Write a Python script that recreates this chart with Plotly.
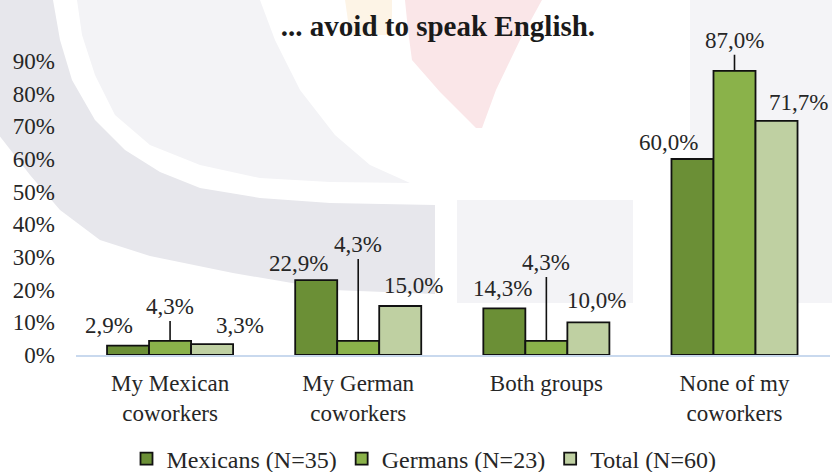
import plotly.graph_objects as go

categories = ["My Mexican<br>coworkers", "My German<br>coworkers", "Both groups", "None of my<br>coworkers"]
series_names = ["Mexicans (N=35)", "Germans (N=23)", "Total (N=60)"]
mexicans = [0.029, 0.229, 0.143, 0.600]
germans = [0.043, 0.043, 0.043, 0.870]
total = [0.033, 0.150, 0.100, 0.717]
y_ticks = [0, 0.1, 0.2, 0.3, 0.4, 0.5, 0.6, 0.7, 0.8, 0.9]
title_text = "... avoid to speak English."

colors = ["#6b8f36", "#8ab24a", "#bfd0a2"]
FONT = "Liberation Serif"
TXT = "#262626"

# plot area geometry (pixels) for background watermark placement
L, T, W, H = 76, 61, 754, 294


def P(px, py):
    return (px - L) / W, (T + H - py) / H


def path(pts):
    s = ""
    for i, (px, py) in enumerate(pts):
        x, y = P(px, py)
        s += ("M" if i == 0 else "L") + f"{x:.4f},{y:.4f} "
    return s + "Z"


band = [(-5, 0), (53, 0), (60, 40), (72, 80), (95, 120), (125, 150), (160, 172), (200, 188),
        (260, 198), (330, 203), (435, 205), (435, 294), (333, 290), (233, 273), (150, 256),
        (100, 240), (60, 210), (30, 175), (-5, 130)]
light = [(77, 0), (260, 0), (275, 40), (300, 90), (335, 135), (370, 165), (410, 183),
         (330, 182), (260, 178), (200, 165), (150, 145), (115, 115), (95, 75), (82, 35)]
pink = [(405, 0), (542, 0), (520, 40), (496, 90), (482, 128), (476, 128), (440, 92),
        (412, 60), (408, 30)]
orange = [(345, 0), (392, 0), (392, 35), (350, 35)]

shapes = [
    dict(type="path", path=path(band), xref="paper", yref="paper", layer="below",
         fillcolor="#e7e7ec", line=dict(width=0)),
    dict(type="path", path=path(light), xref="paper", yref="paper", layer="below",
         fillcolor="#f3f3f6", line=dict(width=0)),
    dict(type="path", path=path(pink), xref="paper", yref="paper", layer="below",
         fillcolor="#fae6e8", line=dict(width=0)),
    dict(type="path", path=path(orange), xref="paper", yref="paper", layer="below",
         fillcolor="#fdf4e6", line=dict(width=0)),
    dict(type="path", path=path([(457, 200), (633, 200), (633, 303), (457, 303)]), xref="paper",
         yref="paper", layer="below", fillcolor="#f3f3f6", line=dict(width=0)),
    dict(type="path", path=path([(690, -5), (840, -5), (840, 303), (690, 303)]), xref="paper",
         yref="paper", layer="below", fillcolor="#f4f4f7", line=dict(width=0)),
]

fig = go.Figure()
for name, vals, col in zip(series_names, [mexicans, germans, total], colors):
    fig.add_trace(go.Bar(
        x=categories, y=vals, name=name,
        marker=dict(color=col, line=dict(color="#111111", width=1.8)),
    ))


def fmt(v):
    return f"{v*100:.1f}%".replace(".", ",")


# label offsets (pixels) relative to category center / bar top
mex_dx = [-61, -60, -44, -66]
mex_dy = [20, 17, 20, 17]
tot_dx = [70, 55, 50, 64]
tot_dy = [19, 21, 22, 18]
ger_ay = [-34, -96, -78, -30]

ann = []
for i, c in enumerate(categories):
    ann.append(dict(x=c, y=mexicans[i], text=fmt(mexicans[i]), showarrow=False,
                    xshift=mex_dx[i], yshift=mex_dy[i], font=dict(family=FONT, size=23, color=TXT)))
    ann.append(dict(x=c, y=total[i], text=fmt(total[i]), showarrow=False,
                    xshift=tot_dx[i], yshift=tot_dy[i], font=dict(family=FONT, size=23, color=TXT)))
    ann.append(dict(x=c, y=germans[i], text=fmt(germans[i]), showarrow=True,
                    arrowhead=0, arrowwidth=1.6, arrowcolor="#111111", ax=0, ay=ger_ay[i],
                    font=dict(family=FONT, size=23, color=TXT)))

fig.update_layout(
    width=832, height=472,
    margin=dict(l=L, r=832 - L - W, t=T, b=472 - T - H),
    paper_bgcolor="white", plot_bgcolor="rgba(0,0,0,0)",
    barmode="group", bargap=0.33, bargroupgap=0,
    font=dict(family=FONT, size=23, color=TXT),
    title=dict(text="<b>" + title_text + "</b>", x=438/832, xref="container", xanchor="center",
               y=1-26/472, yref="container", yanchor="middle",
               font=dict(family=FONT, size=29, color="#1a1a1a")),
    showlegend=True,
    legend=dict(orientation="h", x=424/832, xanchor="center", xref="container",
                y=13/472, yanchor="middle", yref="container", bgcolor="rgba(0,0,0,0)",
                font=dict(family=FONT, size=24, color=TXT), itemwidth=30),
    annotations=ann,
    shapes=shapes,
    xaxis=dict(showline=True, linecolor="#c9d9ee", linewidth=2, showgrid=False,
               tickfont=dict(family=FONT, size=23, color=TXT), ticklabelstandoff=6),
    yaxis=dict(range=[0, 0.9], tickvals=y_ticks, tickformat=".0%", showgrid=False,
               zeroline=False, showline=False, ticklabelstandoff=20,
               tickfont=dict(family=FONT, size=23, color=TXT)),
)

fig.write_html("out.html")
